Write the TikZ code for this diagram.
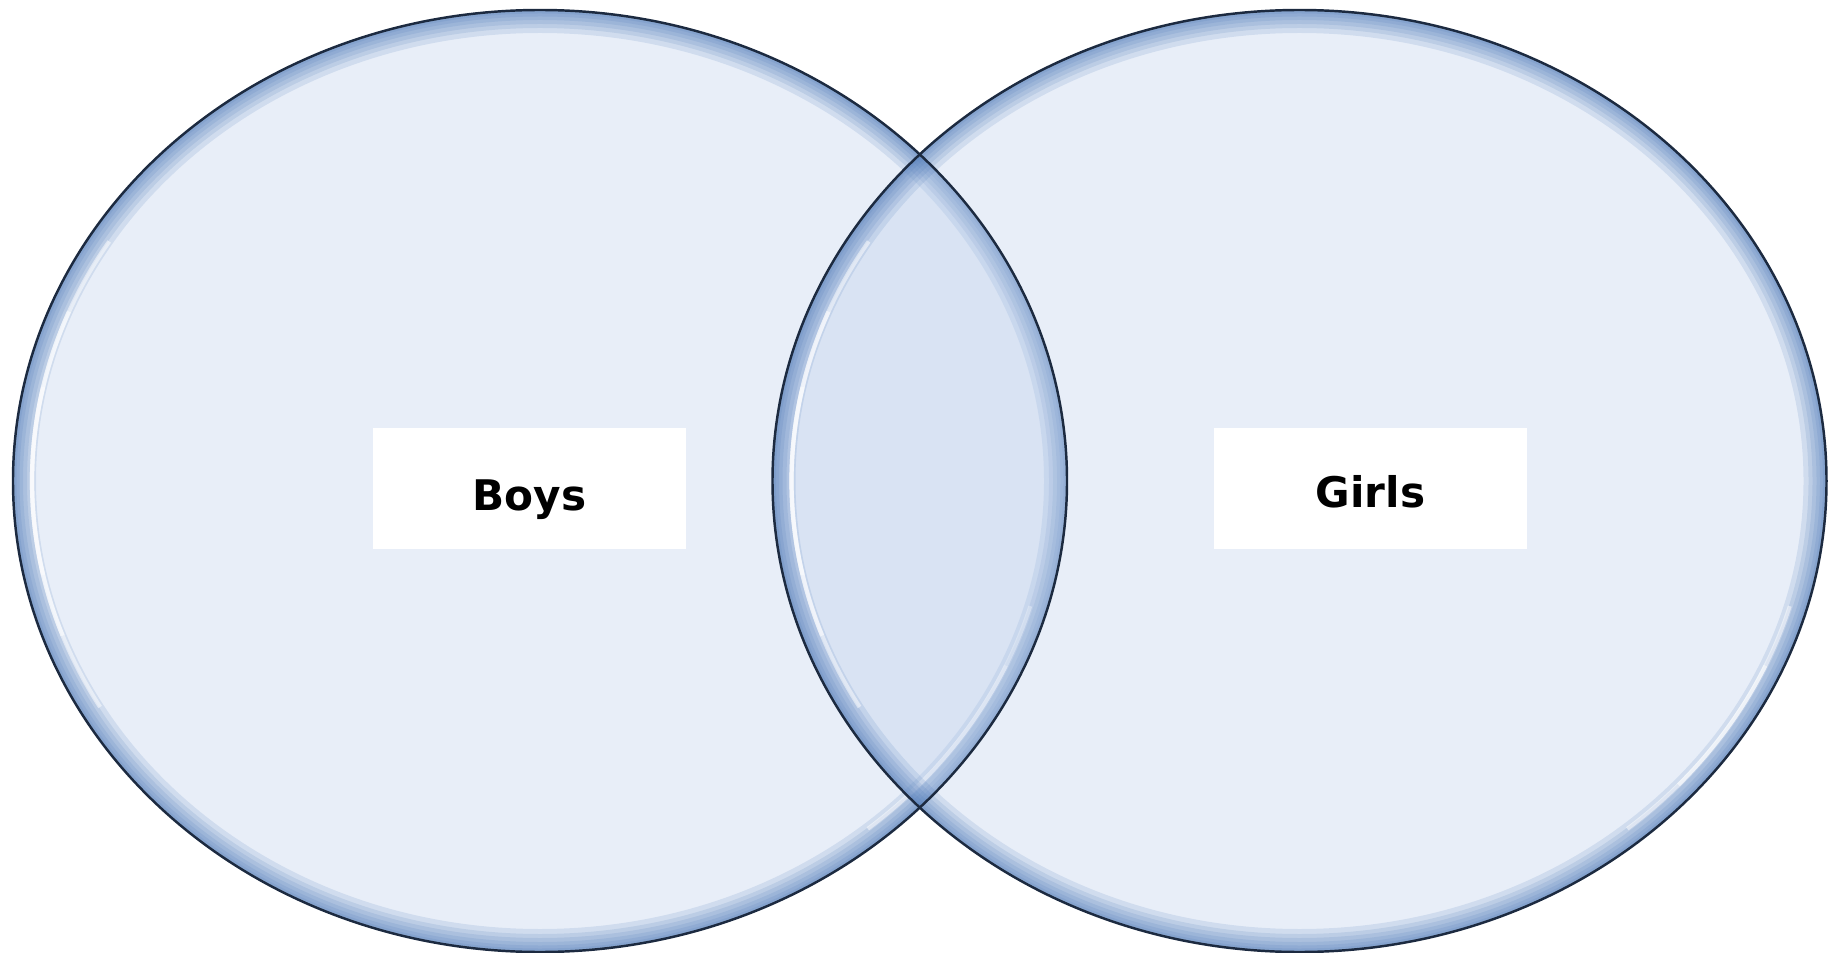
\documentclass[tikz,border=0pt]{standalone}
\usepackage{fontspec}
\setmainfont{DejaVu Sans}
\usetikzlibrary{calc}
\definecolor{vennfill}{HTML}{B9CCEA}
\definecolor{vennrim}{HTML}{4A76B6}
\definecolor{vennline}{HTML}{1C2A40}
\tikzset{every node/.append style={font=\fontsize{12}{14}\selectfont\bfseries}}
\tikzset{labelbox/.style={fill=white,inner sep=0pt,minimum width=3.13cm,
  text height=.82cm,text depth=.39cm}}

\begin{document}
\begin{tikzpicture}[x=1cm,y=1cm]
  \useasboundingbox (0,0) rectangle (18.3,9.52);
  \coordinate (boys) at (5.40,4.71);
  \coordinate (girls) at (12.995,4.71);
  % two see-through discs, rim darker, glossy streaks inside
  \foreach \c in {boys,girls}{
    \fill[vennfill,fill opacity=.33] (\c) ellipse [x radius=5.27,y radius=4.71];
    \begin{scope}
      \clip (\c) ellipse [x radius=5.27,y radius=4.71];
      \foreach \w in {.46,.36,.28,.2,.13,.07}
        \draw[vennrim,line width=\w cm,opacity=.15] (\c) ellipse [x radius=5.27,y radius=4.71];
    \end{scope}
    \foreach \a/\b in {148/210,158/200,168/192}
      \draw[white,line width=1.2pt,opacity=.5]
        ([shift={(\a:5.08 and 4.52)}]\c) arc [start angle=\a,end angle=\b,x radius=5.08,y radius=4.52];
    \foreach \a/\b in {-50/-16,-42/-24}
      \draw[white,line width=1.1pt,opacity=.5]
        ([shift={(\a:5.1 and 4.54)}]\c) arc [start angle=\a,end angle=\b,x radius=5.1,y radius=4.54];
  }
  \draw[vennline,line width=.7pt] (boys) ellipse [x radius=5.27,y radius=4.71];
  \draw[vennline,line width=.7pt] (girls) ellipse [x radius=5.27,y radius=4.71];
  \node[labelbox] (boyslbl) at (5.295,4.635) {Boys};
  \node[labelbox,text height=.79cm,text depth=.42cm] (girlslbl) at (13.705,4.635) {Girls};
\end{tikzpicture}
\end{document}
